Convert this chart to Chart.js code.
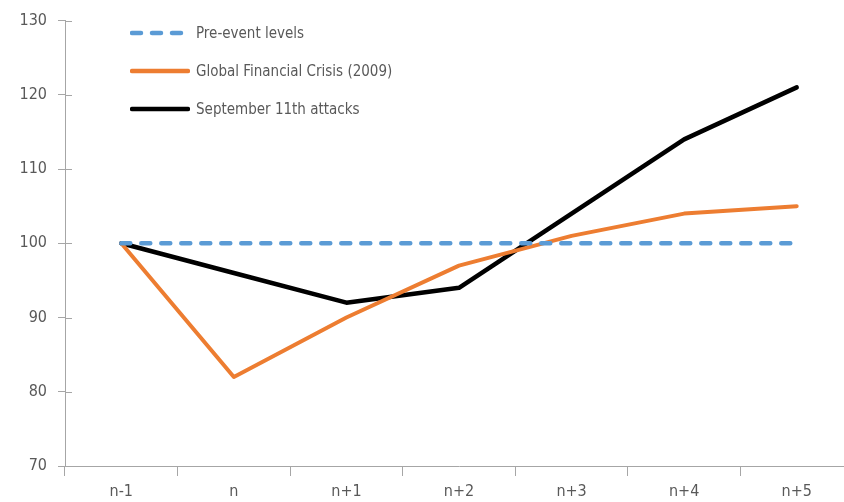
<!DOCTYPE html>
<html>
<head>
<meta charset="utf-8">
<script src="https://cdn.jsdelivr.net/npm/chart.js@4"></script>
<style>
  html, body { margin: 0; padding: 0; background: #fff; overflow: hidden; }
  #wrap { position: relative; width: 856px; height: 502px; }
  #legenda { position: absolute; left: 130px; top: 14px; font-family: "Liberation Sans Narrow", "DejaVu Sans Condensed", sans-serif; font-size: 15px; color: #595959; }
  .item { display: flex; align-items: center; height: 38px; }
  .item svg { margin-right: 6px; }
</style>
</head>
<body>
<div id="wrap">
  <canvas id="grafico" width="856" height="502"></canvas>
  <div id="legenda"></div>
</div>
<script>
// Dados
const categorias = ['n-1', 'n', 'n+1', 'n+2', 'n+3', 'n+4', 'n+5'];
const preEvento = [100, 100, 100, 100, 100, 100, 100];
const crise2009 = [100, 82, 90, 97, 101, 104, 105];
const setembro11 = [100, 96, 92, 94, 104, 114, 121];

const cinza = '#A6A6A6';
const fonte = '"Liberation Sans Narrow", "DejaVu Sans Condensed", sans-serif';

const series = [
    { label: 'Pre-event levels', data: preEvento, cor: '#5B9BD5', traco: [9, 11], largura: 4.5, ponta: 'round' },
    { label: 'Global Financial Crisis (2009)', data: crise2009, cor: '#ED7D31', traco: [], largura: 4, ponta: 'round' },
    { label: 'September 11th attacks', data: setembro11, cor: '#000000', traco: [], largura: 4.5, ponta: 'round' }
];

// Marcas do eixo y que cruzam a linha do eixo
const marcasInternas = {
    id: 'marcasInternas',
    afterDraw(chart) {
        const y = chart.scales.y;
        const c = chart.ctx;
        c.save();
        c.strokeStyle = cinza;
        c.lineWidth = 1;
        y.ticks.forEach(t => {
            const py = Math.round(y.getPixelForValue(t.value)) + 0.5;
            c.beginPath();
            c.moveTo(y.right, py);
            c.lineTo(y.right + 7, py);
            c.stroke();
        });
        c.restore();
    }
};

new Chart(document.getElementById('grafico'), {
    type: 'line',
    data: {
        labels: categorias,
        datasets: series.map(s => ({
            label: s.label,
            data: s.data,
            borderColor: s.cor,
            backgroundColor: s.cor,
            borderWidth: s.largura,
            borderDash: s.traco,
            borderCapStyle: s.ponta,
            borderJoinStyle: 'round',
            pointRadius: 0,
            tension: 0,
            fill: false
        }))
    },
    options: {
        responsive: false,
        animation: false,
        layout: { padding: { top: 18, right: 3, left: 0, bottom: 0 } },
        plugins: { legend: { display: false }, tooltip: { enabled: false } },
        scales: {
            x: {
                offset: true,
                grid: { offset: true, drawOnChartArea: false, color: cinza, tickLength: 10 },
                border: { color: cinza, width: 1 },
                ticks: { color: '#595959', font: { family: fonte, size: 16 }, padding: 6, maxRotation: 0 },
                afterFit(s) { s.height = 36; }
            },
            y: {
                min: 70,
                max: 130,
                ticks: { stepSize: 10, color: '#595959', font: { family: fonte, size: 16 }, padding: 11 },
                grid: { drawOnChartArea: false, color: cinza, tickLength: 7 },
                border: { color: cinza, width: 1 },
                afterFit(s) { s.width = 65; }
            }
        }
    },
    plugins: [marcasInternas]
});

// Legenda em HTML
const legenda = document.getElementById('legenda');
series.forEach(s => {
    const div = document.createElement('div');
    div.className = 'item';
    div.innerHTML = `<svg width="60" height="8"><line x1="2" y1="4" x2="58" y2="4" stroke="${s.cor}" stroke-width="4.5" stroke-linecap="round" stroke-dasharray="${s.traco.join(',')}"/></svg><span>${s.label}</span>`;
    legenda.appendChild(div);
});
</script>
</body>
</html>
